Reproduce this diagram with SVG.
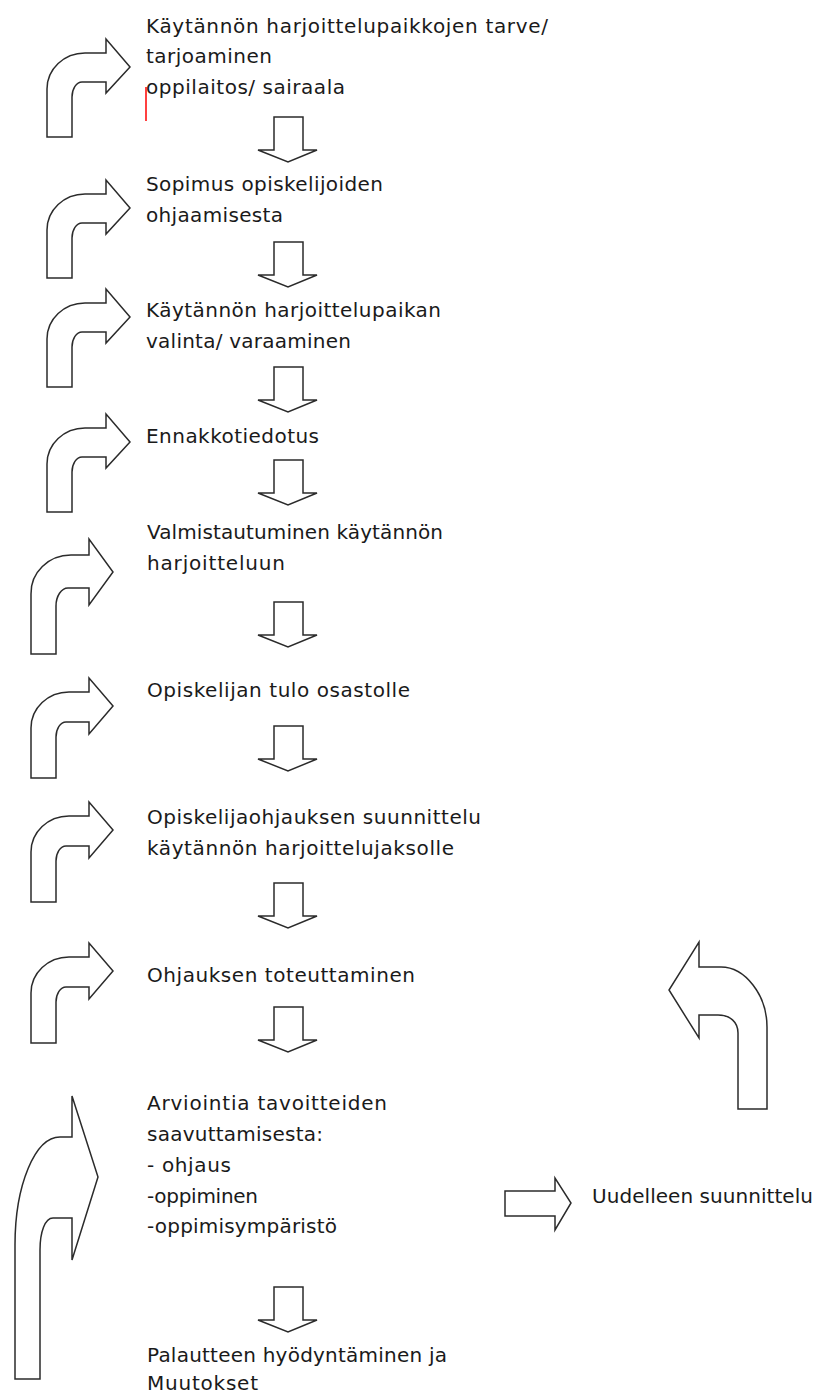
<svg xmlns="http://www.w3.org/2000/svg" xmlns:xlink="http://www.w3.org/1999/xlink" width="823" height="1396" viewBox="0 0 823 1396">
<style>
  .lbl { font-family: "DejaVu Sans", "Liberation Sans", sans-serif; font-size: 20px; fill: #1a1a1a; }
  .arr { fill: #ffffff; stroke: #2b2b2b; stroke-width: 1.5; stroke-linejoin: miter; }
</style>
<defs>
  <path id="turnA" d="M -83,70 L -83,22 A 38,36 0 0 1 -45,-14 L -24,-14 L -24,-28 L 0,0 L -24,26 L -24,15 L -48,15 A 10,15 0 0 0 -58,30 L -58,70 Z"/>
  <path id="turnB" d="M -82,72 L -82,22 A 38,36 0 0 1 -44,-14 L -24,-14 L -24,-28 L 0,0 L -24,28 L -24,16 L -47,16 A 10,15 0 0 0 -57,31 L -57,72 Z"/>
  <path id="down" d="M 0,0 L 29,0 L 29,33 L 43,33 L 14,45 L -16,33 L 0,33 Z"/>
</defs>
<rect width="823" height="1396" fill="#ffffff"/>

<g id="connectors">
  <use xlink:href="#down" class="arr" transform="translate(274,117)"/>
  <use xlink:href="#down" class="arr" transform="translate(274,242)"/>
  <use xlink:href="#down" class="arr" transform="translate(274,367)"/>
  <use xlink:href="#down" class="arr" transform="translate(274,460)"/>
  <use xlink:href="#down" class="arr" transform="translate(274,602)"/>
  <use xlink:href="#down" class="arr" transform="translate(274,726)"/>
  <use xlink:href="#down" class="arr" transform="translate(274,883)"/>
  <use xlink:href="#down" class="arr" transform="translate(274,1007)"/>
  <use xlink:href="#down" class="arr" transform="translate(274,1287)"/>
  <use xlink:href="#turnA" class="arr" transform="translate(130,67)"/>
  <use xlink:href="#turnA" class="arr" transform="translate(130,208)"/>
  <use xlink:href="#turnA" class="arr" transform="translate(130,317)"/>
  <use xlink:href="#turnA" class="arr" transform="translate(130,442)"/>
  <path class="arr" transform="translate(113,572)" d="M -82,82 L -82,22 A 40,38 0 0 1 -42,-17 L -24,-17 L -24,-33 L 0,0 L -24,33 L -24,16 L -45,16 A 12,18 0 0 0 -57,34 L -57,82 Z"/>
  <use xlink:href="#turnB" class="arr" transform="translate(113,706)"/>
  <use xlink:href="#turnB" class="arr" transform="translate(113,830)"/>
  <use xlink:href="#turnB" class="arr" transform="translate(113,971)"/>
  <path class="arr" d="M 15,1379 L 15,1245 C 15,1185 35,1137 60,1137 L 72,1137 L 72,1096 L 98,1177 L 72,1260 L 72,1218 L 53,1218 C 45,1218 40,1232 40,1250 L 40,1379 Z"/>
  <path class="arr" d="M 505,1191 L 555,1191 L 555,1178 L 571,1203 L 555,1230 L 555,1216 L 505,1216 Z"/>
  <path class="arr" d="M 738,1109 L 738,1033 C 738,1022 730,1015 718,1015 L 699,1015 L 699,1038 L 669,990 L 699,942 L 699,967 L 721,967 C 745,967 767,995 767,1027 L 767,1109 Z"/>
</g>

<line x1="146" y1="87" x2="146" y2="121" stroke="#ff0000" stroke-width="1.5"/>

<g id="n1">
  <text class="lbl" x="146" y="33" textLength="402">Käytännön harjoittelupaikkojen tarve/</text>
  <text class="lbl" x="146" y="63" textLength="126">tarjoaminen</text>
  <text class="lbl" x="146" y="94" textLength="199">oppilaitos/ sairaala</text>
</g>
<g id="n2">
  <text class="lbl" x="146" y="191" textLength="237">Sopimus opiskelijoiden</text>
  <text class="lbl" x="146" y="222" textLength="137">ohjaamisesta</text>
</g>
<g id="n3">
  <text class="lbl" x="146" y="317" textLength="295">Käytännön harjoittelupaikan</text>
  <text class="lbl" x="146" y="348" textLength="205">valinta/ varaaminen</text>
</g>
<g id="n4">
  <text class="lbl" x="146" y="443" textLength="173">Ennakkotiedotus</text>
</g>
<g id="n5">
  <text class="lbl" x="147" y="539" textLength="296">Valmistautuminen käytännön</text>
  <text class="lbl" x="147" y="570" textLength="138">harjoitteluun</text>
</g>
<g id="n6">
  <text class="lbl" x="147" y="697" textLength="263">Opiskelijan tulo osastolle</text>
</g>
<g id="n7">
  <text class="lbl" x="147" y="824" textLength="334">Opiskelijaohjauksen suunnittelu</text>
  <text class="lbl" x="147" y="855" textLength="307">käytännön harjoittelujaksolle</text>
</g>
<g id="n8">
  <text class="lbl" x="147" y="982" textLength="268">Ohjauksen toteuttaminen</text>
</g>
<g id="n9">
  <text class="lbl" x="147" y="1110" textLength="240">Arviointia tavoitteiden</text>
  <text class="lbl" x="147" y="1141" textLength="176">saavuttamisesta:</text>
  <text class="lbl" x="147" y="1172" textLength="84">- ohjaus</text>
  <text class="lbl" x="147" y="1203" textLength="111">-oppiminen</text>
  <text class="lbl" x="147" y="1233" textLength="190">-oppimisympäristö</text>
</g>
<g id="n10">
  <text class="lbl" x="147" y="1362" textLength="300">Palautteen hyödyntäminen ja</text>
  <text class="lbl" x="147" y="1390" textLength="111">Muutokset</text>
</g>
<g id="n11">
  <text class="lbl" x="592" y="1203" textLength="221">Uudelleen suunnittelu</text>
</g>
</svg>
